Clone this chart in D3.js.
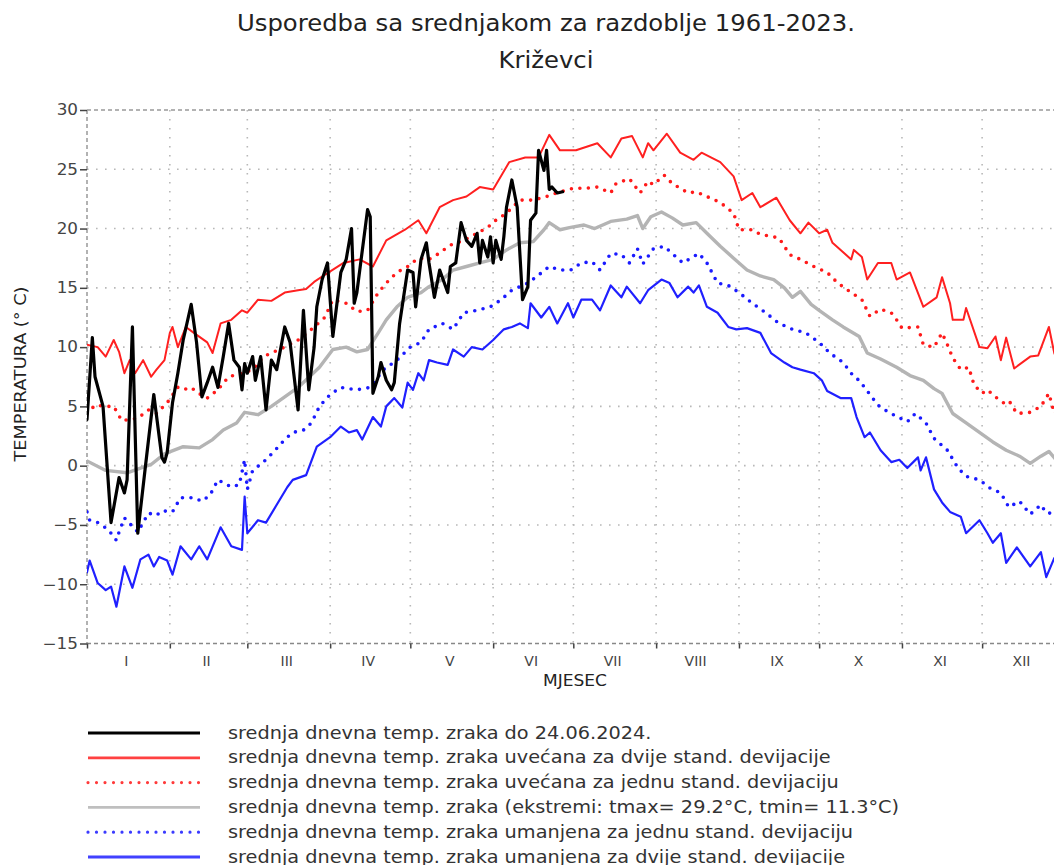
<!DOCTYPE html>
<html><head><meta charset="utf-8">
<script src="https://cdn.jsdelivr.net/npm/d3@7"></script>
<style>
html,body{margin:0;padding:0;background:#fff;}
svg{display:block;font-family:"DejaVu Sans",sans-serif;}
</style></head>
<body><svg id="c" width="1054" height="865"></svg>
<script>
// ---- data (day of year, temperature °C) ----
const monthStartDays = [1, 32, 61, 92, 122, 153, 183, 214, 245, 275, 306, 336, 367];
const monthLabels = ["I","II","III","IV","V","VI","VII","VIII","IX","X","XI","XII"];
const yTicks = [-15,-10,-5,0,5,10,15,20,25,30];

const observed2024 = [[1,3.9],[3,10.8],[4,7.5],[7,5.0],[10,-4.8],[13,-1.0],[15,-2.3],[16,-1.2],[18,11.7],[20,-5.7],[23,0.2],[26,6.0],[29,0.7],[30,0.3],[31,1.1],[33,5.3],[35,7.8],[37,10.6],[40,13.6],[42,10.4],[44,5.8],[46,7.0],[48,8.3],[50,6.6],[52,9.2],[54,12.0],[56,8.9],[58,8.3],[59,6.4],[60,8.6],[61,7.8],[63,9.2],[64,7.2],[66,9.2],[68,4.7],[70,8.9],[72,8.1],[75,11.7],[77,10.4],[80,4.7],[82,13.1],[84,6.4],[86,10.0],[87,13.4],[89,15.7],[91,17.1],[93,10.9],[96,16.3],[98,17.4],[100,20.0],[101,13.7],[102,14.6],[106,21.6],[107,21.0],[108,6.1],[110,7.5],[111,8.7],[113,7.2],[115,6.4],[116,7.0],[118,12.0],[121,16.5],[123,16.3],[124,13.4],[126,17.4],[128,18.8],[129,17.1],[131,14.2],[133,16.5],[136,14.6],[137,16.8],[139,17.1],[141,20.5],[143,19.0],[145,18.5],[147,19.6],[148,17.1],[149,19.0],[151,17.6],[152,19.3],[153,17.1],[154,19.0],[156,17.4],[157,19.3],[158,21.8],[160,24.1],[162,21.8],[164,14.0],[166,15.1],[167,20.7],[169,21.3],[170,26.6],[172,24.9],[173,26.6],[174,23.3],[175,23.5],[177,23.0],[179,23.1]];

const plus2sd = [[1,10.2],[5,10.0],[8,9.2],[11,10.6],[13,9.6],[15,7.8],[17,8.9],[19,7.8],[22,8.9],[25,7.5],[27,8.1],[30,8.9],[32,11.2],[33,11.7],[35,10.0],[38,11.7],[41,11.2],[46,10.4],[48,9.5],[51,12.0],[55,12.3],[59,13.1],[61,12.9],[65,14.0],[70,13.9],[75,14.6],[80,14.8],[83,14.9],[86,15.5],[90,16.1],[97,17.1],[103,17.4],[108,16.8],[113,19.0],[120,19.9],[125,20.7],[128,19.6],[133,21.8],[138,22.4],[143,22.7],[148,23.5],[153,23.3],[159,25.6],[165,26.0],[170,26.0],[174,27.9],[178,26.6],[184,26.6],[188,26.9],[192,27.2],[197,26.0],[201,27.6],[205,27.8],[209,26.0],[211,27.2],[213,26.6],[218,28.0],[223,26.4],[228,25.8],[231,26.4],[238,25.6],[243,24.4],[246,22.4],[250,23.0],[253,21.8],[259,22.6],[264,20.7],[268,19.6],[271,20.5],[275,19.6],[278,19.9],[280,18.8],[287,17.4],[288,18.2],[291,17.6],[293,15.7],[297,17.1],[302,17.1],[304,15.7],[309,16.3],[314,13.4],[319,14.2],[321,15.9],[324,13.7],[325,12.3],[329,12.3],[330,13.3],[335,10.0],[338,9.9],[341,10.9],[343,8.9],[345,10.8],[348,8.2],[354,9.2],[357,9.3],[361,11.7],[363,9.5],[366,8.0]];

const plus1sd = [[1,4.4],[4,5.1],[8,5.0],[11,5.0],[14,3.8],[20,4.0],[24,4.7],[27,4.4],[31,5.3],[35,6.6],[37,6.4],[40,6.6],[42,6.2],[46,5.7],[50,6.4],[54,7.5],[59,7.8],[63,8.1],[67,9.2],[70,9.5],[75,10.0],[80,10.6],[85,11.5],[90,12.5],[93,14.0],[98,13.7],[102,13.0],[106,13.1],[110,14.6],[113,15.4],[117,16.3],[121,16.8],[125,17.5],[129,17.4],[132,17.8],[137,18.6],[142,19.0],[147,19.6],[151,20.1],[154,20.7],[158,21.3],[163,22.4],[168,22.4],[173,22.7],[178,23.1],[183,23.4],[188,23.4],[192,23.5],[197,23.0],[199,23.8],[204,24.2],[208,23.0],[211,24.0],[213,23.7],[217,24.5],[220,23.8],[226,23.0],[229,23.1],[233,22.7],[238,22.2],[243,21.3],[245,19.9],[250,19.9],[253,19.5],[258,19.3],[260,19.2],[264,17.8],[268,17.4],[273,16.8],[278,16.3],[282,15.4],[287,14.6],[291,14.0],[294,12.6],[298,13.2],[302,12.9],[304,12.3],[306,11.6],[312,11.7],[314,10.2],[318,10.0],[321,11.2],[323,10.2],[325,9.1],[328,8.1],[331,8.3],[333,6.8],[336,6.1],[338,6.4],[341,5.8],[344,5.3],[346,5.5],[349,4.4],[354,4.5],[358,5.0],[361,6.1],[363,4.4],[366,5.0]];

const meanTemp = [[1,0.4],[8,-0.4],[16,-0.6],[25,0.1],[30,1.0],[37,1.6],[43,1.5],[48,2.2],[52,3.0],[57,3.6],[60,4.5],[65,4.3],[70,5.0],[75,5.8],[80,6.6],[88,8.3],[93,9.8],[98,10.0],[102,9.6],[106,9.8],[110,11.2],[113,12.3],[117,13.4],[121,14.2],[126,14.6],[129,15.1],[134,15.7],[138,16.5],[143,16.8],[148,17.1],[153,17.4],[158,18.2],[163,18.8],[168,18.9],[172,19.9],[174,20.5],[178,19.9],[182,20.1],[187,20.3],[191,20.0],[197,20.6],[203,20.8],[207,21.1],[209,20.0],[212,21.0],[216,21.4],[220,20.9],[224,20.3],[229,20.5],[233,19.6],[238,18.5],[243,17.5],[248,16.5],[253,16.0],[258,15.7],[262,15.0],[265,14.2],[268,14.7],[272,13.6],[275,13.1],[280,12.3],[284,11.7],[290,10.9],[293,9.5],[298,9.0],[304,8.3],[309,7.6],[314,7.2],[318,6.5],[321,6.1],[325,4.4],[330,3.6],[335,2.8],[340,2.0],[345,1.3],[350,0.8],[354,0.2],[358,0.8],[361,1.2],[364,0.4],[366,0.3]];

const minus1sd = [[1,-3.9],[2,-4.6],[5,-4.8],[9,-5.4],[12,-6.3],[13,-5.6],[15,-4.4],[20,-5.6],[24,-4.0],[27,-4.2],[29,-3.8],[33,-3.9],[36,-2.7],[41,-2.7],[44,-3.0],[47,-2.5],[50,-1.2],[55,-1.8],[58,-1.6],[60,0.5],[61,-2.0],[63,-0.4],[67,0.3],[71,1.2],[75,2.2],[78,2.8],[82,3.0],[85,3.6],[88,5.0],[92,6.0],[96,6.6],[102,6.4],[107,6.6],[112,8.1],[117,8.9],[122,10.0],[126,10.4],[129,11.5],[134,12.0],[138,11.5],[142,12.9],[147,13.1],[152,13.4],[156,14.0],[160,14.8],[166,15.4],[169,15.9],[174,16.8],[178,16.5],[182,16.5],[186,17.1],[190,17.2],[193,16.5],[197,17.9],[201,17.8],[204,17.1],[207,18.3],[209,17.0],[213,18.3],[217,18.5],[220,17.9],[224,17.1],[230,17.9],[233,17.1],[237,15.4],[241,15.2],[245,14.6],[250,13.7],[255,12.9],[260,12.0],[265,11.5],[270,11.2],[275,10.4],[279,9.5],[284,8.7],[288,7.5],[290,7.2],[297,5.1],[301,4.5],[308,3.7],[311,4.4],[315,3.6],[318,2.3],[323,1.3],[327,-0.2],[330,-0.9],[335,-1.2],[339,-1.9],[343,-2.3],[346,-3.5],[350,-3.0],[354,-4.1],[358,-3.3],[360,-4.0],[363,-4.0],[366,-4.2]];

const minus2sd = [[1,-9.0],[2,-8.0],[5,-9.9],[8,-10.5],[10,-10.2],[12,-11.9],[15,-8.5],[18,-10.3],[21,-7.9],[24,-7.5],[26,-8.5],[28,-7.7],[31,-8.0],[33,-9.2],[36,-6.8],[40,-7.9],[43,-6.8],[46,-7.9],[51,-5.2],[55,-6.8],[59,-7.1],[60,-2.6],[61,-5.7],[65,-4.6],[68,-4.8],[72,-3.3],[76,-1.8],[78,-1.2],[83,-0.8],[87,1.6],[92,2.4],[96,3.3],[99,2.8],[102,3.0],[104,2.2],[108,4.1],[111,3.3],[113,5.0],[116,5.7],[119,4.9],[121,7.0],[123,6.4],[125,7.8],[127,7.2],[129,8.9],[132,8.7],[136,8.5],[138,9.8],[142,9.2],[145,10.0],[149,9.8],[153,10.6],[157,11.5],[160,11.7],[163,12.0],[166,11.6],[167,13.7],[171,12.5],[174,13.4],[177,12.0],[181,13.7],[183,12.5],[186,14.0],[190,14.0],[193,13.1],[197,15.2],[201,14.2],[203,15.1],[208,13.7],[211,14.8],[216,15.7],[219,15.4],[222,14.2],[226,15.1],[228,14.6],[230,15.2],[233,13.4],[237,12.9],[241,11.7],[244,11.5],[248,11.6],[253,11.2],[257,9.5],[262,8.7],[265,8.3],[268,8.1],[273,7.8],[276,7.2],[278,6.3],[283,5.7],[287,5.7],[289,4.1],[292,2.4],[294,2.8],[298,1.3],[302,0.3],[305,0.5],[308,-0.2],[312,0.7],[313,-0.4],[315,0.7],[318,-2.0],[321,-3.1],[324,-3.9],[328,-4.3],[330,-5.7],[335,-4.6],[338,-5.7],[340,-6.5],[343,-5.7],[345,-8.2],[349,-6.9],[354,-8.5],[358,-7.3],[360,-9.4],[363,-7.8],[366,-8.0]];

const legendLabels = [
  "srednja dnevna temp. zraka do 24.06.2024.",
  "srednja dnevna temp. zraka uvećana za dvije stand. devijacije",
  "srednja dnevna temp. zraka uvećana za jednu stand. devijaciju",
  "srednja dnevna temp. zraka (ekstremi: tmax= 29.2°C, tmin= 11.3°C)",
  "srednja dnevna temp. zraka umanjena za jednu stand. devijaciju",
  "srednja dnevna temp. zraka umanjena za dvije stand. devijacije"
];

// ---- drawing ----
const svg = d3.select("#c");
const L = 87, T = 110, B = 643.5;
const x = d3.scaleLinear().domain([1, 366]).range([L, L + 365 * 2.672]);
const y = d3.scaleLinear().domain([-15, 30]).range([B, T]);
const R = x(366);

// widen text horizontally (the reference font is slightly stretched)
function stretch(sel, k) {
  sel.each(function () {
    const w = this.getComputedTextLength();
    d3.select(this).attr("textLength", w * k).attr("lengthAdjust", "spacingAndGlyphs");
  });
}

const t1 = svg.append("text").attr("x", 546).attr("y", 31).attr("text-anchor", "middle")
  .attr("font-size", 22.5).attr("fill", "#222").text("Usporedba sa srednjakom za razdoblje 1961-2023.");
const t2 = svg.append("text").attr("x", 546).attr("y", 68).attr("text-anchor", "middle")
  .attr("font-size", 22.5).attr("fill", "#222").text("Križevci");
stretch(t1, 1.08); stretch(t2, 1.08);

// grid
const grid = svg.append("g");
grid.selectAll("line.h").data(yTicks.filter(v => v > -15 && v < 30)).join("line")
  .attr("x1", L).attr("x2", R).attr("y1", d => y(d)).attr("y2", d => y(d))
  .attr("stroke", "#b8b8b8").attr("stroke-width", 1.6).attr("stroke-dasharray", "1.6 7.4");
grid.selectAll("line.v").data(monthStartDays.slice(1, 12)).join("line")
  .attr("x1", d => x(d)).attr("x2", d => x(d)).attr("y1", T).attr("y2", B)
  .attr("stroke", "#b8b8b8").attr("stroke-width", 1.6).attr("stroke-dasharray", "1.6 7.4");

// frame
svg.append("line").attr("x1", L).attr("x2", R).attr("y1", T).attr("y2", T)
  .attr("stroke", "#999").attr("stroke-width", 1.5).attr("stroke-dasharray", "4 3");
svg.append("line").attr("x1", L).attr("x2", R).attr("y1", B).attr("y2", B)
  .attr("stroke", "#888").attr("stroke-width", 1.5).attr("stroke-dasharray", "4 3");
svg.append("line").attr("x1", L).attr("x2", L).attr("y1", T).attr("y2", B)
  .attr("stroke", "#999").attr("stroke-width", 1.5).attr("stroke-dasharray", "4 3");

// y axis
const ya = svg.append("g").attr("transform", `translate(${L},0)`)
  .call(d3.axisLeft(y).tickValues(yTicks).tickSize(7).tickPadding(2));
ya.select(".domain").remove();
ya.selectAll("line").attr("stroke", "#444").attr("stroke-width", 1.5);
ya.selectAll("text").attr("font-size", 15).attr("fill", "#444").attr("font-family", "DejaVu Sans");
stretch(ya.selectAll("text"), 1.12);

// x axis ticks
const xa = svg.append("g").attr("transform", `translate(0,${B})`)
  .call(d3.axisBottom(x).tickValues(monthStartDays.slice(0, 12)).tickSize(5).tickFormat(""));
xa.select(".domain").remove();
xa.selectAll("line").attr("stroke", "#444").attr("stroke-width", 1.5);

const ml = svg.append("g").selectAll("text").data(monthLabels).join("text")
  .attr("x", (d, i) => (x(monthStartDays[i]) + x(monthStartDays[i + 1])) / 2 - 2)
  .attr("y", 666).attr("text-anchor", "middle").attr("font-size", 14).attr("fill", "#444")
  .text(d => d);

const xl = svg.append("text").attr("x", 575).attr("y", 686).attr("text-anchor", "middle")
  .attr("font-size", 15.5).attr("fill", "#222").text("MJESEC");
stretch(xl, 1.1);
const yl = svg.append("text").attr("transform", "translate(26,374) rotate(-90)").attr("text-anchor", "middle")
  .attr("font-size", 15.5).attr("fill", "#222").text("TEMPERATURA (° C)");
stretch(yl, 1.14);

// clip
svg.append("clipPath").attr("id", "pc").append("rect")
  .attr("x", L).attr("y", T - 2).attr("width", R - L).attr("height", B - T + 4);

const line = d3.line().x(d => x(d[0])).y(d => y(d[1]));
const series = [
  {data: minus2sd, color: "#2020ff", w: 2.2, dash: null},
  {data: minus1sd, color: "#1a1aff", w: 3.6, dash: "0 8.5"},
  {data: meanTemp, color: "#b4b4b4", w: 3.4, dash: null},
  {data: plus1sd, color: "#ff1a1a", w: 3.6, dash: "0 8.5"},
  {data: plus2sd, color: "#ff2020", w: 2.0, dash: null},
  {data: observed2024, color: "#000000", w: 3.2, dash: null}
];
const pg = svg.append("g").attr("clip-path", "url(#pc)");
series.forEach(s => {
  pg.append("path").datum(s.data).attr("d", line).attr("fill", "none")
    .attr("stroke", s.color).attr("stroke-width", s.w)
    .attr("stroke-linejoin", "round")
    .attr("stroke-linecap", "round")
    .attr("stroke-dasharray", s.dash);
});

// legend
const legOrder = [5, 4, 3, 2, 1, 0];
const lg = svg.append("g");
legendLabels.forEach((t, i) => {
  const s = series[legOrder[i]];
  const yy = 733 + i * 24.8;
  lg.append("line").attr("x1", 88).attr("x2", 200).attr("y1", yy).attr("y2", yy)
    .attr("stroke", s.color).attr("stroke-width", s.dash ? 3.2 : 2.8)
    .attr("stroke-linecap", s.dash ? "round" : "butt")
    .attr("stroke-dasharray", s.dash ? "0 8.5" : null)
    .attr("opacity", s.color === "#000000" ? 1 : 0.85);
  const tx = lg.append("text").attr("x", 228).attr("y", yy + 5.5).attr("font-size", 17)
    .attr("fill", "#333").text(t);
  stretch(tx, 1.135);
});
</script></body></html>
